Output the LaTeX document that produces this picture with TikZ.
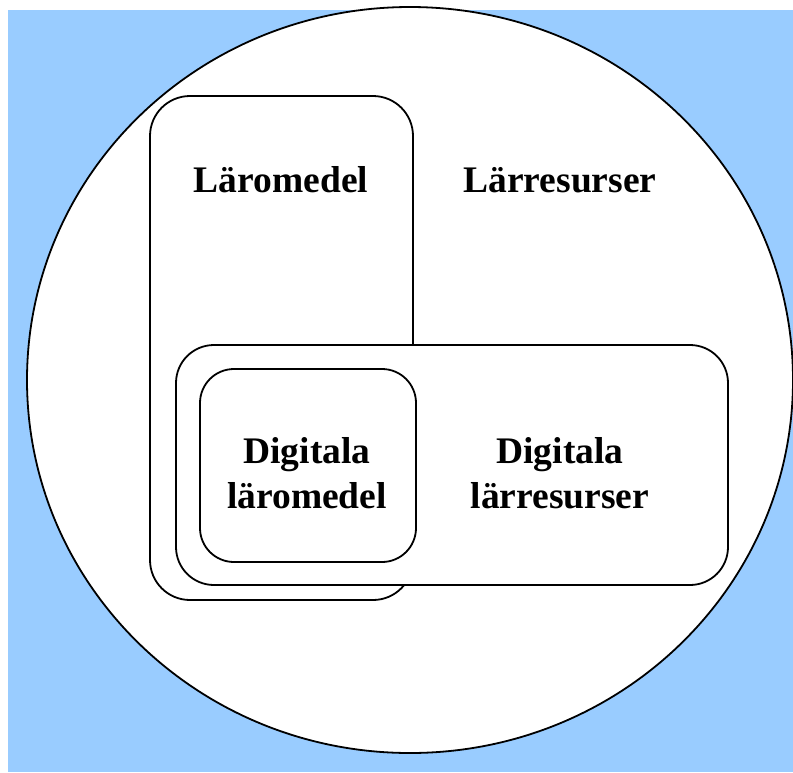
\documentclass[tikz,border=0pt]{standalone}
\usepackage{fontspec}
\setmainfont{Liberation Serif}
\begin{document}
\begin{tikzpicture}[x=1pt,y=-1pt,
  box/.style={draw=black,line width=1.8pt,fill=white,rounded corners=40pt},
  lbl/.style={font=\fontsize{37.5}{45}\selectfont\bfseries,align=center,anchor=base,inner sep=0pt}]
\useasboundingbox (0,0) rectangle (793,772);
\fill[fill={rgb,255:red,153;green,204;blue,255}] (8,10) rectangle (793,772);
\begin{scope}
\clip (8,0) rectangle (793,772);
\draw[line width=1.8pt,fill=white] (410,380) ellipse [x radius=383pt, y radius=373pt];
\end{scope}
\draw[box] (150,96) rectangle (413,600);
\draw[box,rounded corners=38pt] (176,345) rectangle (728,585);
\draw[box,rounded corners=34pt] (200,369) rectangle (416,562);
\node[lbl] (lm) at (281,192) {Läromedel};
\node[lbl] (lr) at (560,192) {Lärresurser};
\node[lbl] (dl1) at (307,463) {Digitala};
\node[lbl] (dl2) at (307,508) {läromedel};
\node[lbl] (dr1) at (560,463) {Digitala};
\node[lbl] (dr2) at (560,508) {lärresurser};
\end{tikzpicture}
\end{document}
